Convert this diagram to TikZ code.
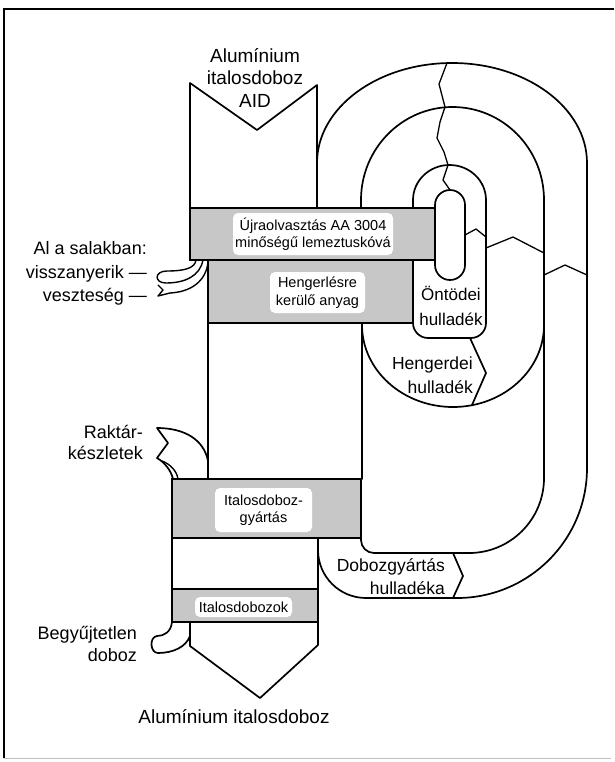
\documentclass[tikz,border=0pt]{standalone}
\usepackage{fontspec}
\setmainfont{Liberation Sans}
\begin{document}
\begin{tikzpicture}[x=1pt,y=-1pt,
  flow/.style={line width=1.7pt, line join=round, line cap=round},
  gbox/.style={draw, line width=1.7pt, fill=black!22, inner sep=0pt, outer sep=0pt},
  wlabel/.style={fill=white, rounded corners=5pt, inner sep=0pt, align=center,
    font=\fontsize{14.5}{17.5}\selectfont},
  biglabel/.style={inner sep=0pt, align=center, font=\fontsize{19}{22.5}\selectfont},
  sidelabel/.style={inner sep=0pt, font=\fontsize{17.5}{23.5}\selectfont},
  leftlabel/.style={inner sep=0pt, align=right, font=\fontsize{18}{23.5}\selectfont},
]
\useasboundingbox (0,0) rectangle (614,762);
\fill[white] (0,0) rectangle (614,762);

% frame
\draw[black!25, line width=1pt] (4,758) -- (611,758);
\draw[line width=2.6pt] (4,758) -- (4,9) -- (614,9);

% outer loop: can-making scrap
\draw[flow] (317,163) arc[start angle=180, end angle=360, x radius=135, y radius=100]
  -- (587,468) arc[start angle=0, end angle=90, radius=130] -- (453,598);
\draw[flow] (453,553) -- (463,576) -- (453,598) -- (366,598)
  arc[start angle=90, end angle=180, radius=48] -- (318,538);
\draw[flow] (361,538) -- (361,540) arc[start angle=180, end angle=90, radius=13] -- (453,553);
% boundary between outer loop and rolling-mill loop
\draw[flow] (361,208) -- (361,200) arc[start angle=180, end angle=360, x radius=91.5, y radius=93]
  -- (544,478) arc[start angle=0, end angle=90, radius=75] -- (453,553);
% rolling-mill scrap loop
\draw[flow] (362,323) -- (362,325) arc[start angle=180, end angle=0, x radius=91, y radius=82];
\draw[flow] (470,338) -- (486,373) -- (472,405);
% foundry scrap loop
\draw[flow] (413,260) -- (413,200) arc[start angle=180, end angle=360, x radius=36.5, y radius=35]
  -- (486,323) arc[start angle=0, end angle=90, radius=15] -- (428,338)
  arc[start angle=90, end angle=180, radius=15] -- (413,323);

% torn line across the loops
\draw[flow, line width=1.3pt] (447,63) -- (439,84) -- (445,107) -- (440,122) -- (437,138)
  -- (444,152) -- (448,165) -- (443,180) -- (450,190);
% zigzag breaks
\draw[flow, line width=1.3pt] (465,235) -- (476,229) -- (486,237);
\draw[flow, line width=1.3pt] (486,248) -- (513,237) -- (544,253);
\draw[flow, line width=1.3pt] (544,275) -- (565,265) -- (587,275);

% main stream
\draw[flow] (190,208) -- (190,83) -- (257,130) -- (317,85) -- (317,208);
\draw[flow] (208,323) -- (208,479);
\draw[flow] (362,323) -- (362,479);
\draw[flow] (172,538) -- (172,589);
\draw[flow] (318,538) -- (318,589);
\draw[flow] (190,622) -- (190,646) -- (260,698) -- (318,645) -- (318,622);

% dross branches
\draw[flow, line width=1.4pt] (196,260) .. controls (195,268) and (185,271) .. (167,271)
  .. controls (154,271) and (154,283) .. (166,283) .. controls (185,283) and (200,276) .. (203,260);
\draw[flow, line width=1.4pt] (208,262) .. controls (206,282) and (190,292) .. (170,293)
  -- (158,296) -- (163,290) -- (158,285);
% stock branch
\draw[flow] (208,461) .. controls (204,440) and (185,428) .. (157,428) -- (168,443) -- (157,458)
  .. controls (164,462) and (171,470) .. (173,479);
\draw[flow, line width=1.4pt] (162,461) .. controls (170,464) and (177,471) .. (178,479);
% uncollected cans
\draw[flow] (172,622) .. controls (171,632) and (164,636) .. (157,636)
  .. controls (149,637) and (150,653) .. (158,653) .. controls (173,653) and (186,647) .. (190,636);

% process boxes
\node[gbox, minimum width=245pt, minimum height=52pt] (remelt) at (312.5,234) {};
\node[gbox, minimum width=205pt, minimum height=63pt] (rolling) at (310.5,291.5) {};
\node[gbox, minimum width=189pt, minimum height=59pt] (canmaking) at (266.5,508.5) {};
\node[gbox, minimum width=146pt, minimum height=33pt] (cans) at (245,605.5) {};
\node[draw, line width=1.7pt, fill=white, rounded corners=15pt, minimum width=30pt,
  minimum height=90pt, inner sep=0pt] (core) at (450,235) {};

\node[wlabel, minimum width=160pt, minimum height=42pt] (remeltText) at (313,234)
  {Újraolvasztás AA 3004\\minőségű lemeztuskóvá};
\node[wlabel, minimum width=95pt, minimum height=41pt] (rollingText) at (317.5,292.5)
  {Hengerlésre\\kerülő anyag};
\node[wlabel, minimum width=97pt, minimum height=44pt] (canmakingText) at (263.5,510)
  {Italosdoboz-\\gyártás};
\node[wlabel, minimum width=97pt, minimum height=20pt] (cansText) at (243.5,607)
  {Italosdobozok};

% labels
\node[biglabel] (inLabel) at (255,78) {Alumínium\\italosdoboz\\AID};
\node[biglabel] (outLabel) at (234,717) {Alumínium italosdoboz};
\node[leftlabel, anchor=east] (drossLabel) at (147,273.5) {Al a salakban:\\visszanyerik —\\veszteség —};
\node[leftlabel, anchor=east, font=\fontsize{18}{21.5}\selectfont] (stockLabel) at (143,442.5) {Raktár-\\készletek};
\node[leftlabel, anchor=east, font=\fontsize{18}{22}\selectfont] (lostLabel) at (137,644) {Begyűjtetlen\\doboz};
\node[sidelabel, anchor=east, align=right, font=\fontsize{17.5}{23}\selectfont] (canScrap) at (445,576.5) {Dobozgyártás\\hulladéka};
\node[sidelabel, anchor=east, align=right, font=\fontsize{17.5}{24}\selectfont] (millScrap) at (473,375) {Hengerdei\\hulladék};
\node[sidelabel, align=center, font=\fontsize{17}{25}\selectfont] (foundryScrap) at (451,305.5) {Öntödei\\hulladék};
\end{tikzpicture}
\end{document}
